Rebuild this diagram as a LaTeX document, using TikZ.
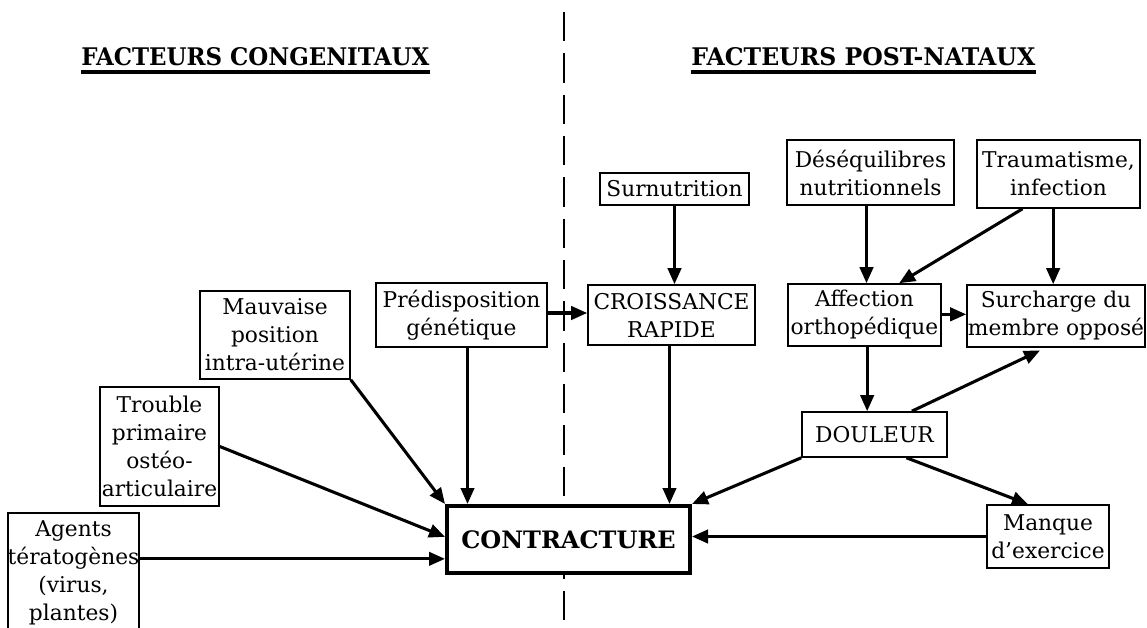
\documentclass[tikz,border=0pt]{standalone}
\usepackage{fontspec}
\setmainfont{DejaVu Serif}
\usetikzlibrary{arrows.meta,calc}
\begin{document}
\begin{tikzpicture}[x=0.75pt,y=-0.75pt,
  box/.style 2 args={draw, line width=1.2pt, fill=white, inner sep=0pt, align=center,
    minimum width=#1*0.75pt, minimum height=#2*0.75pt,
    font=\fontsize{16.3}{21}\selectfont},
  arr/.style={line width=2.3pt, -{Triangle[length=12pt,width=10pt]}},
  headtxt/.style={anchor=base west, inner sep=0pt},
  uline/.style={line width=3pt},
  divider/.style={line width=1.1pt, dash pattern=on 22pt off 9pt}]
\useasboundingbox (0,0) rectangle (1147,628);

% titles
\node[headtxt] (tc) at (81,65) {\resizebox{261pt}{13.5pt}{\bfseries FACTEURS CONGENITAUX}};
\node[headtxt] (tp) at (691,65) {\resizebox{258pt}{13.5pt}{\bfseries FACTEURS POST-NATAUX}};
\draw[uline] ([yshift=-5.5pt]tc.base west) -- ([yshift=-5.5pt]tc.base east);
\draw[uline] ([yshift=-5.5pt]tp.base west) -- ([yshift=-5.5pt]tp.base east);

% divider
\coordinate (dtop) at (564,12);
\coordinate (dbot) at (564,640);
\draw[divider] (dtop) -- (dbot);

% boxes
\node[box={127}{120}] (agents) at (73.5,573) {Agents\\tératogènes\\(virus,\\plantes)};
\node[box={119}{119}] (trouble) at (159.5,446.5) {Trouble\\primaire\\ostéo-\\articulaire};
\node[box={150}{88}] (mauv) at (275,335) {Mauvaise\\position\\intra-utérine};
\node[box={171}{64}] (predisp) at (461.5,315) {Prédisposition\\génétique};
\node[box={149}{32}] (surnut) at (674.5,189) {Surnutrition};
\node[box={167}{60}] (croiss) at (671.5,315) {CROISSANCE\\RAPIDE};
\node[box={167}{65}] (deseq) at (870.5,172.5) {Déséquilibres\\nutritionnels};
\node[box={163}{68}] (trauma) at (1058.5,174) {Traumatisme,\\infection};
\node[box={153}{62}] (affect) at (864.5,315) {Affection\\orthopédique};
\node[box={178}{62}] (surch) at (1056,316) {Surcharge du\\membre opposé};
\node[box={145}{45}] (douleur) at (874.5,434.5) {DOULEUR};
\node[box={122}{63}] (manque) at (1048,536.5) {Manque\\d{\char"27}exercice};
\node[box={243}{67}, line width=3pt, font=\fontsize{18}{21}\selectfont\bfseries] (contract) at (568.5,539.5) {CONTRACTURE};

% connectors
\draw[arr] (surnut.south) -- (surnut.south |- croiss.north);
\draw[arr] ([yshift=1.5pt]predisp.east) -- ([yshift=1.5pt]predisp.east -| croiss.west);
\draw[arr] ([xshift=4.5pt]predisp.south) -- ([xshift=4.5pt]predisp.south |- contract.north);
\draw[arr] ([xshift=-1.5pt]croiss.south) -- ([xshift=-1.5pt]croiss.south |- contract.north);
\draw[arr] (mauv.south east) -- (contract.north west);
\draw[arr] (trouble.east) -- ([yshift=2pt]contract.west);
\coordinate (cA) at ([yshift=-14.5pt]contract.west);
\draw[arr] (agents.east |- cA) -- (cA);
\draw[arr] (douleur.south west) -- (contract.north east);
\draw[arr] (manque.west) -- (manque.west -| contract.east);
\draw[arr] ([xshift=24pt]douleur.south) -- ([xshift=-15pt]manque.north);
\draw[arr] ([xshift=2pt]affect.south) -- ([xshift=2pt]affect.south |- douleur.north);
\draw[arr] ([xshift=28pt]douleur.north) -- ([xshift=-12pt,yshift=-2pt]surch.south);
\draw[arr] ([yshift=0.5pt]affect.east) -- ([yshift=0.5pt]affect.east -| surch.west);
\draw[arr] ([xshift=-3pt]deseq.south) -- ([xshift=-3pt]deseq.south |- affect.north);
\draw[arr] ([xshift=-27pt]trauma.south) -- ([xshift=26pt]affect.north);
\draw[arr] ([xshift=-4pt]trauma.south) -- ([xshift=-4pt]trauma.south |- surch.north);
\end{tikzpicture}
\end{document}
